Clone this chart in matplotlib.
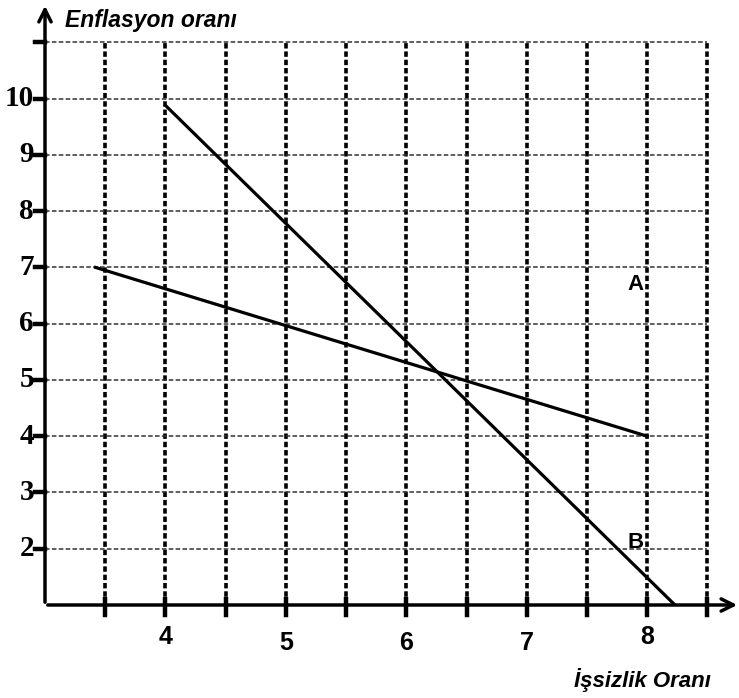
import numpy as np
import matplotlib.pyplot as plt

# curve A and B endpoints (unemployment, inflation)
a_x = [3.42, 8.0]
a_y = [7.0, 4.0]
b_x = [4.0, 8.23]
b_y = [9.88, 1.0]

x_grid = np.arange(3.5, 8.51, 0.5)
y_grid = np.arange(2, 11.1, 1)
x_labels = [4, 5, 6, 7, 8]
y_labels = [2, 3, 4, 5, 6, 7, 8, 9, 10]

W, H = 739, 698
fig = plt.figure(figsize=(W / 100, H / 100), dpi=100)
ax = fig.add_axes([45 / W, (H - 605) / H, (740 - 45) / W, (605 - 3) / H])
ax.set_xlim(3, 8.77)
ax.set_ylim(1, 11.7)
ax.axis('off')

# dashed grid
for x in x_grid:
    ax.plot([x, x], [1, 11], color='black', lw=2.6, ls=(0, (1.5, 0.8)), zorder=1)
for y in y_grid:
    ax.plot([3, 8.5], [y, y], color='#333333', lw=1.1, ls=(0, (3, 1.5)), zorder=1)

# axes with arrows
ax.annotate('', xy=(3, 11.7), xytext=(3, 1), xycoords='data',
            arrowprops=dict(arrowstyle='->', lw=2.5, color='black', mutation_scale=22),
            annotation_clip=False)
ax.annotate('', xy=(8.77, 1), xytext=(3, 1), xycoords='data',
            arrowprops=dict(arrowstyle='->', lw=2.5, color='black', mutation_scale=22),
            annotation_clip=False)

# tick marks
tx = 10 / 120
ty = 10 / 56.3
for x in x_grid:
    ax.plot([x, x], [1 + ty * 0.6, 1 - ty], color='black', lw=3.2, clip_on=False)
for y in y_grid:
    ax.plot([3 - tx, 3], [y, y], color='black', lw=3.2, clip_on=False)

# tick labels
serif = dict(family='Liberation Serif', weight='bold')
sans = dict(family='Liberation Sans', weight='bold')
for y in y_labels:
    ax.text(3 - tx * 1.1, y, str(y), ha='right', va='center', fontsize=21, **serif)
for x in x_labels:
    off = 0.57 if x in (4, 8) else 0.67
    ax.text(x, 1 - off, str(x), ha='center', va='center', fontsize=18, **sans)

# curves
ax.plot(a_x, a_y, color='black', lw=2.3, zorder=3)
ax.plot(b_x, b_y, color='black', lw=2.3, zorder=3)
ax.text(7.9, 6.69, 'A', ha='center', va='center', fontsize=16, **sans)
ax.text(7.9, 2.11, 'B', ha='center', va='center', fontsize=16, **sans)

# axis titles
fig.text(65 / W, 1 - 20 / H, 'Enflasyon oranı', ha='left', va='center',
         fontsize=16.5, style='italic', **sans)
fig.text(711 / W, 1 - 680 / H, 'İşsizlik Oranı', ha='right', va='center',
         fontsize=16, style='italic', **sans)

fig.savefig('out.png', dpi=100)
